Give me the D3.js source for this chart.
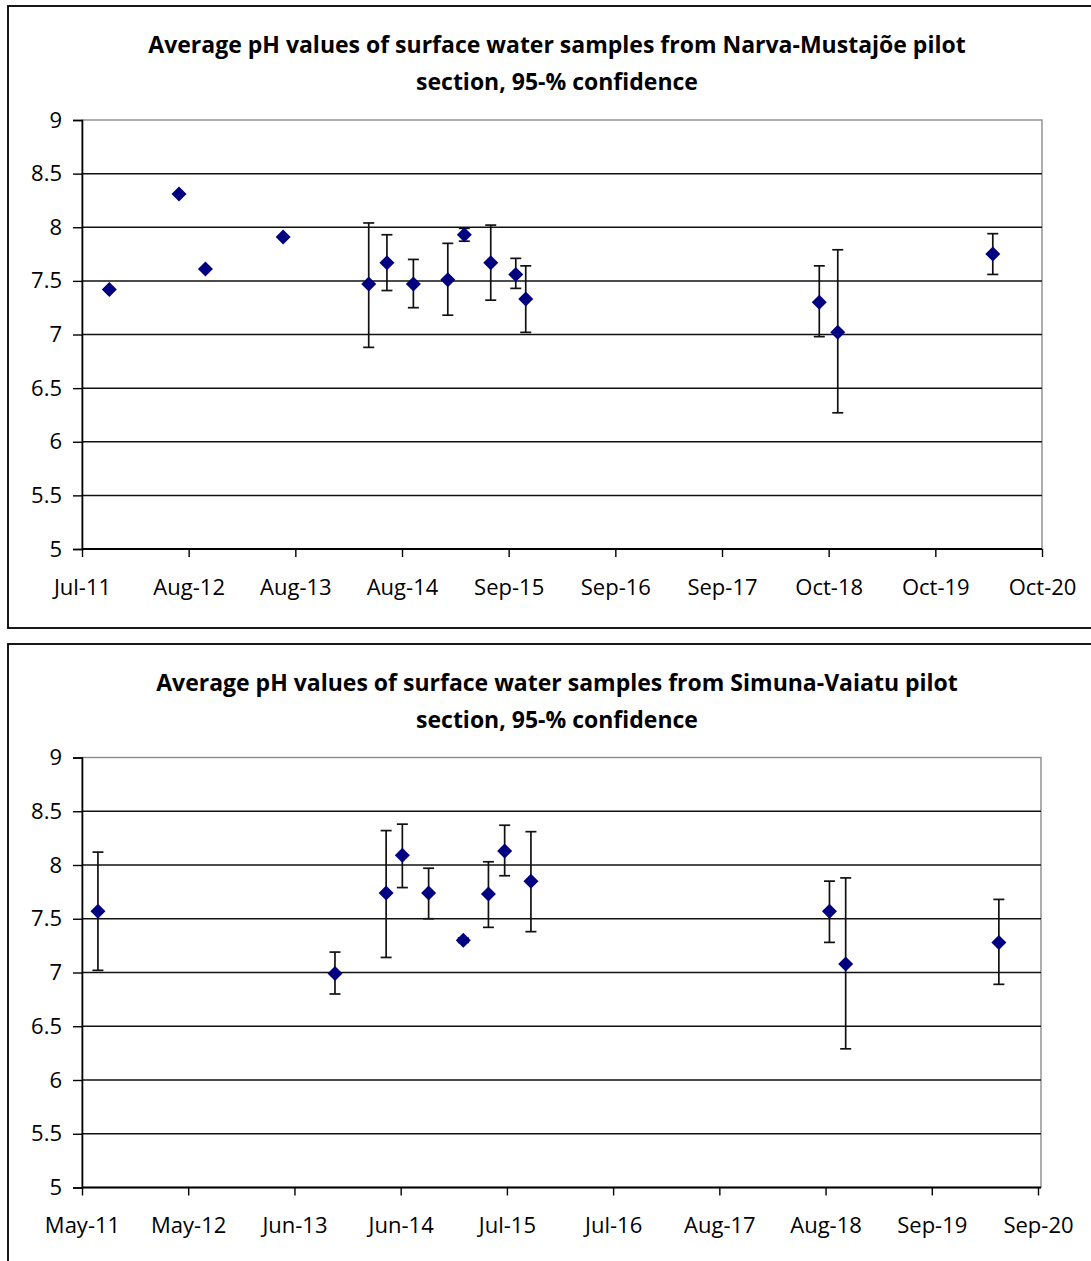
<!DOCTYPE html>
<html>
<head>
<meta charset="utf-8">
<script src="https://cdn.jsdelivr.net/npm/d3@7"></script>
<style>
  body { margin: 0; background: #fff; }
  text { font-family: "Open Sans", sans-serif; fill: #000; }
</style>
</head>
<body>
<div id="chart"></div>
<script>
// Narva-Mustajõe pilot section
const narvaDates = ["2011-10-29", "2012-06-30", "2012-10-01", "2013-07-01", "2014-04-28", "2014-07-01",
    "2014-10-02", "2015-01-31", "2015-03-30", "2015-07-01", "2015-09-27", "2015-11-01",
    "2018-08-29", "2018-11-02", "2020-04-30"];
const narvaMean = [7.42, 8.31, 7.61, 7.91, 7.47, 7.67, 7.47, 7.51, 7.93, 7.67, 7.56, 7.33, 7.30, 7.02, 7.75];
const narvaLow = [null, null, null, null, 6.88, 7.41, 7.25, 7.18, 7.87, 7.32, 7.43, 7.02, 6.98, 6.27, 7.56];
const narvaHigh = [null, null, null, null, 8.04, 7.93, 7.70, 7.85, 7.99, 8.02, 7.71, 7.64, 7.64, 7.79, 7.94];
const narvaTickDates = ["2011-07-25", "2012-08-03", "2013-08-13", "2014-08-23", "2015-09-02",
    "2016-09-11", "2017-09-21", "2018-10-01", "2019-10-11", "2020-10-20"];
const narvaTickLabels = ["Jul-11", "Aug-12", "Aug-13", "Aug-14", "Sep-15", "Sep-16", "Sep-17", "Oct-18", "Oct-19", "Oct-20"];

// Simuna-Vaiatu pilot section
const simunaDates = ["2011-07-07", "2013-11-01", "2014-05-03", "2014-06-30", "2014-10-02", "2015-02-03",
    "2015-05-04", "2015-07-01", "2015-10-03", "2018-09-05", "2018-11-02", "2020-05-03"];
const simunaMean = [7.57, 6.99, 7.74, 8.09, 7.74, 7.30, 7.73, 8.13, 7.85, 7.57, 7.08, 7.28];
const simunaLow = [7.02, 6.80, 7.14, 7.79, 7.50, 7.28, 7.42, 7.90, 7.38, 7.28, 6.29, 6.89];
const simunaHigh = [8.12, 7.19, 8.32, 8.38, 7.97, 7.32, 8.03, 8.37, 8.31, 7.85, 7.88, 7.68];
const simunaTickDates = ["2011-05-11", "2012-05-25", "2013-06-09", "2014-06-24", "2015-07-09",
    "2016-07-23", "2017-08-07", "2018-08-22", "2019-09-06", "2020-09-20"];
const simunaTickLabels = ["May-11", "May-12", "Jun-13", "Jun-14", "Jul-15", "Jul-16", "Aug-17", "Aug-18", "Sep-19", "Sep-20"];

const yTicks = [5, 5.5, 6, 6.5, 7, 7.5, 8, 8.5, 9];

const parseDate = d3.timeParse("%Y-%m-%d");

const svg = d3.select("#chart")
    .append("svg")
    .attr("width", 1091)
    .attr("height", 1261);

/*
Draws one chart panel: frame, title, grid, axes, error bars and markers.
*/
function drawChart(opts) {

    let g = svg.append("g").attr("transform", "translate(0," + opts.top + ")");

    // Outer chart frame.
    g.append("rect")
        .attr("x", 8)
        .attr("y", 0)
        .attr("width", 1100)
        .attr("height", opts.frameHeight)
        .attr("fill", "none")
        .attr("stroke", "#000")
        .attr("stroke-width", 1.8);

    // Title, two lines.
    opts.title.forEach((line, i) => {
        g.append("text")
            .attr("x", 557)
            .attr("y", 47 + i * 37)
            .attr("text-anchor", "middle")
            .style("font-size", "23px")
            .style("font-weight", "bold")
            .text(line);
    });

    const plotTop = opts.plotTop, plotBottom = opts.plotBottom;
    const left = 82;

    let x = d3.scaleTime()
        .domain([parseDate(opts.tickDates[0]), parseDate(opts.tickDates[opts.tickDates.length - 1])])
        .range([left, opts.axisRight]);

    let y = d3.scaleLinear()
        .domain([5, 9])
        .range([plotBottom, plotTop]);

    // Plot area border.
    g.append("rect")
        .attr("x", left)
        .attr("y", plotTop)
        .attr("width", opts.plotRight - left)
        .attr("height", plotBottom - plotTop)
        .attr("fill", "none")
        .attr("stroke", "#8c8c8c")
        .attr("stroke-width", 1.4);

    // Horizontal gridlines.
    g.append("g")
        .selectAll("line")
        .data(yTicks.filter(v => v > 5 && v < 9))
        .enter()
        .append("line")
        .attr("x1", left)
        .attr("x2", opts.plotRight)
        .attr("y1", d => y(d))
        .attr("y2", d => y(d))
        .attr("stroke", "#111")
        .attr("stroke-width", 1.5);

    // Y axis.
    let yAxis = g.append("g")
        .attr("transform", "translate(" + left + ",0)")
        .call(d3.axisLeft(y).tickValues(yTicks).tickSize(9).tickPadding(11).tickFormat(d => String(d)));
    yAxis.selectAll("text").style("font-size", "22px").style("font-family", "'Open Sans', sans-serif").attr("fill", "#000");
    yAxis.selectAll("line").attr("stroke", "#000").attr("stroke-width", 1.4);
    yAxis.select(".domain").attr("stroke", "#000").attr("stroke-width", 1.6);

    // X axis.
    let xAxis = g.append("g")
        .attr("transform", "translate(0," + plotBottom + ")")
        .call(d3.axisBottom(x)
            .tickValues(opts.tickDates.map(parseDate))
            .tickSize(8)
            .tickPadding(22)
            .tickFormat((d, i) => opts.tickLabels[i]));
    xAxis.selectAll("text").style("font-size", "22px").style("font-family", "'Open Sans', sans-serif").attr("fill", "#000");
    xAxis.selectAll("line").attr("stroke", "#000").attr("stroke-width", 1.4);
    xAxis.select(".domain").remove();
    xAxis.append("line")
        .attr("x1", left)
        .attr("x2", opts.plotRight)
        .attr("stroke", "#000")
        .attr("stroke-width", 1.8);

    // Combine the arrays into points.
    const points = opts.dates.map((d, i) => ({
        date: parseDate(d),
        mean: opts.mean[i],
        low: opts.low[i],
        high: opts.high[i]
    }));
    const withBars = points.filter(p => p.low !== null);

    // Error bars.
    let bars = g.append("g").attr("stroke", "#111").attr("stroke-width", 1.7);
    bars.selectAll(".stem")
        .data(withBars)
        .enter()
        .append("line")
        .attr("x1", d => x(d.date))
        .attr("x2", d => x(d.date))
        .attr("y1", d => y(d.low))
        .attr("y2", d => y(d.high));
    ["low", "high"].forEach(k => {
        bars.selectAll(".cap-" + k)
            .data(withBars)
            .enter()
            .append("line")
            .attr("x1", d => x(d.date) - 5.5)
            .attr("x2", d => x(d.date) + 5.5)
            .attr("y1", d => y(d[k]))
            .attr("y2", d => y(d[k]));
    });

    // Diamond markers.
    g.append("g")
        .selectAll("path")
        .data(points)
        .enter()
        .append("path")
        .attr("d", d => {
            const cx = x(d.date), cy = y(d.mean), r = 7.5;
            return "M" + cx + "," + (cy - r) + "L" + (cx + r) + "," + cy + "L" + cx + "," + (cy + r) + "L" + (cx - r) + "," + cy + "Z";
        })
        .attr("fill", "#000080");
}

drawChart({
    top: 6,
    frameHeight: 622,
    title: ["Average pH values of surface water samples from Narva-Mustajõe pilot", "section, 95-% confidence"],
    plotTop: 114,
    plotBottom: 543,
    plotRight: 1042,
    axisRight: 1042,
    tickDates: narvaTickDates,
    tickLabels: narvaTickLabels,
    dates: narvaDates,
    mean: narvaMean,
    low: narvaLow,
    high: narvaHigh
});

drawChart({
    top: 644,
    frameHeight: 640,
    title: ["Average pH values of surface water samples from Simuna-Vaiatu pilot", "section, 95-% confidence"],
    plotTop: 113.5,
    plotBottom: 543.5,
    plotRight: 1041,
    axisRight: 1038,
    tickDates: simunaTickDates,
    tickLabels: simunaTickLabels,
    dates: simunaDates,
    mean: simunaMean,
    low: simunaLow,
    high: simunaHigh
});
</script>
</body>
</html>
